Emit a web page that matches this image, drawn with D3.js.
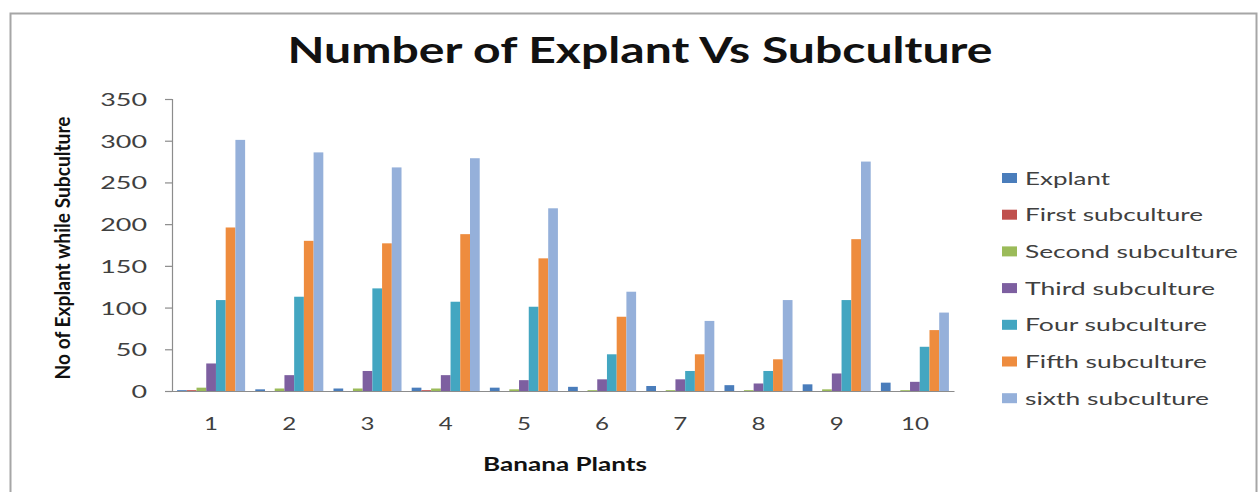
<!DOCTYPE html>
<html><head><meta charset="utf-8">
<script src="https://cdn.jsdelivr.net/npm/d3@7"></script>
<style>html,body{margin:0;padding:0;background:#fff;}svg{display:block;font-family:Lato,"Open Sans",sans-serif;}</style>
</head><body>
<svg id="c" width="1260" height="492"></svg>
<script>
const categories = ["1","2","3","4","5","6","7","8","9","10"];
const seriesNames = ["Explant","First subculture","Second subculture","Third subculture","Four subculture","Fifth subculture","sixth subculture"];
const explant = [1,2,3,4,4,5,6,7,8,10];
const firstSub = [1,0,0,1,0,0,0,0,0,0];
const secondSub = [4,3,3,3,2,1,1,1,2,1];
const thirdSub = [33,19,24,19,13,14,14,9,21,11];
const fourSub = [109,113,123,107,101,44,24,24,109,53];
const fifthSub = [196,180,177,188,159,89,44,38,182,73];
const sixthSub = [301,286,268,279,219,119,84,109,275,94];
const yTicks = [0,50,100,150,200,250,300,350];
const colors = ["#4a7dbb","#c0504d","#9bbb59","#7d5fa0","#43a6c1","#ee8c3e","#95b0da"];

const series = [explant, firstSub, secondSub, thirdSub, fourSub, fifthSub, sixthSub];
const svg = d3.select("#c");

// chart border
svg.append("rect").attr("x",10.5).attr("y",13.5).attr("width",1246).attr("height",520)
  .attr("fill","none").attr("stroke","#a6a6a6").attr("stroke-width",2);

const pLeft = 172, pRight = 954, pTop = 99, pBottom = 391;
const x = d3.scaleBand().domain(categories).range([pLeft,pRight]).paddingInner(0.13).paddingOuter(0.065);
const xs = d3.scaleBand().domain(d3.range(series.length)).range([0,x.bandwidth()]);
const y = d3.scaleLinear().domain([0,350]).range([pBottom,pTop]);

function fit(sel, w){ sel.attr("textLength", w).attr("lengthAdjust","spacingAndGlyphs"); }

// bars
series.forEach((vals,si)=>{
  svg.append("g").selectAll("rect").data(vals).join("rect")
    .attr("x",(d,i)=>x(categories[i])+xs(si))
    .attr("width",xs.bandwidth())
    .attr("y",d=>y(d))
    .attr("height",d=>pBottom-y(d))
    .attr("fill",colors[si]);
});

// y axis
const ya = svg.append("g").attr("transform",`translate(${pLeft},0)`)
  .call(d3.axisLeft(y).tickValues(yTicks).tickSize(7).tickPadding(18));
ya.select(".domain").attr("stroke","#8c8c8c").attr("stroke-width",1.2);
ya.selectAll(".tick line").attr("stroke","#8c8c8c").attr("stroke-width",1.2);
ya.selectAll(".tick text").attr("font-family","Lato, sans-serif").attr("font-size",18).attr("fill","#404040")
  .attr("dy","0.36em").each(function(d){ fit(d3.select(this), 15.6*String(d).length); });

// x axis
const xa = svg.append("g").attr("transform",`translate(0,${pBottom})`)
  .call(d3.axisBottom(x).tickSize(0).tickPadding(26));
xa.select(".domain").attr("stroke","#8c8c8c").attr("stroke-width",1.2);
xa.selectAll(".tick text").attr("font-family","Lato, sans-serif").attr("font-size",18).attr("fill","#404040")
  .each(function(d){ fit(d3.select(this), 14*String(d).length); });

// title
svg.append("text").attr("x",640).attr("y",63).attr("text-anchor","middle")
  .attr("font-size",37).attr("font-weight","bold").attr("fill","#111")
  .text("Number of Explant Vs Subculture").call(fit,705);

// x axis title
svg.append("text").attr("x",565).attr("y",471).attr("text-anchor","middle")
  .attr("font-size",18).attr("font-weight","bold").attr("fill","#111")
  .text("Banana Plants").call(fit,164);

// y axis title
svg.append("text").attr("transform","translate(70,248) rotate(-90) scale(1,1.3)")
  .attr("text-anchor","middle").attr("font-size",16).attr("font-weight","bold").attr("fill","#111")
  .text("No of Explant while Subculture").call(fit,263);

// legend
const legW = [85,178,213,190,182,182,184];
const lg = svg.append("g").selectAll("g").data(seriesNames).join("g")
  .attr("transform",(d,i)=>`translate(1002,${178+i*36.7})`);
lg.append("rect").attr("x",0).attr("y",-5).attr("width",15).attr("height",10).attr("fill",(d,i)=>colors[i]);
lg.append("text").attr("x",23).attr("y",6.5).attr("font-size",18).attr("fill","#404040")
  .text(d=>d).each(function(d,i){ fit(d3.select(this), legW[i]); });
</script>
</body></html>
